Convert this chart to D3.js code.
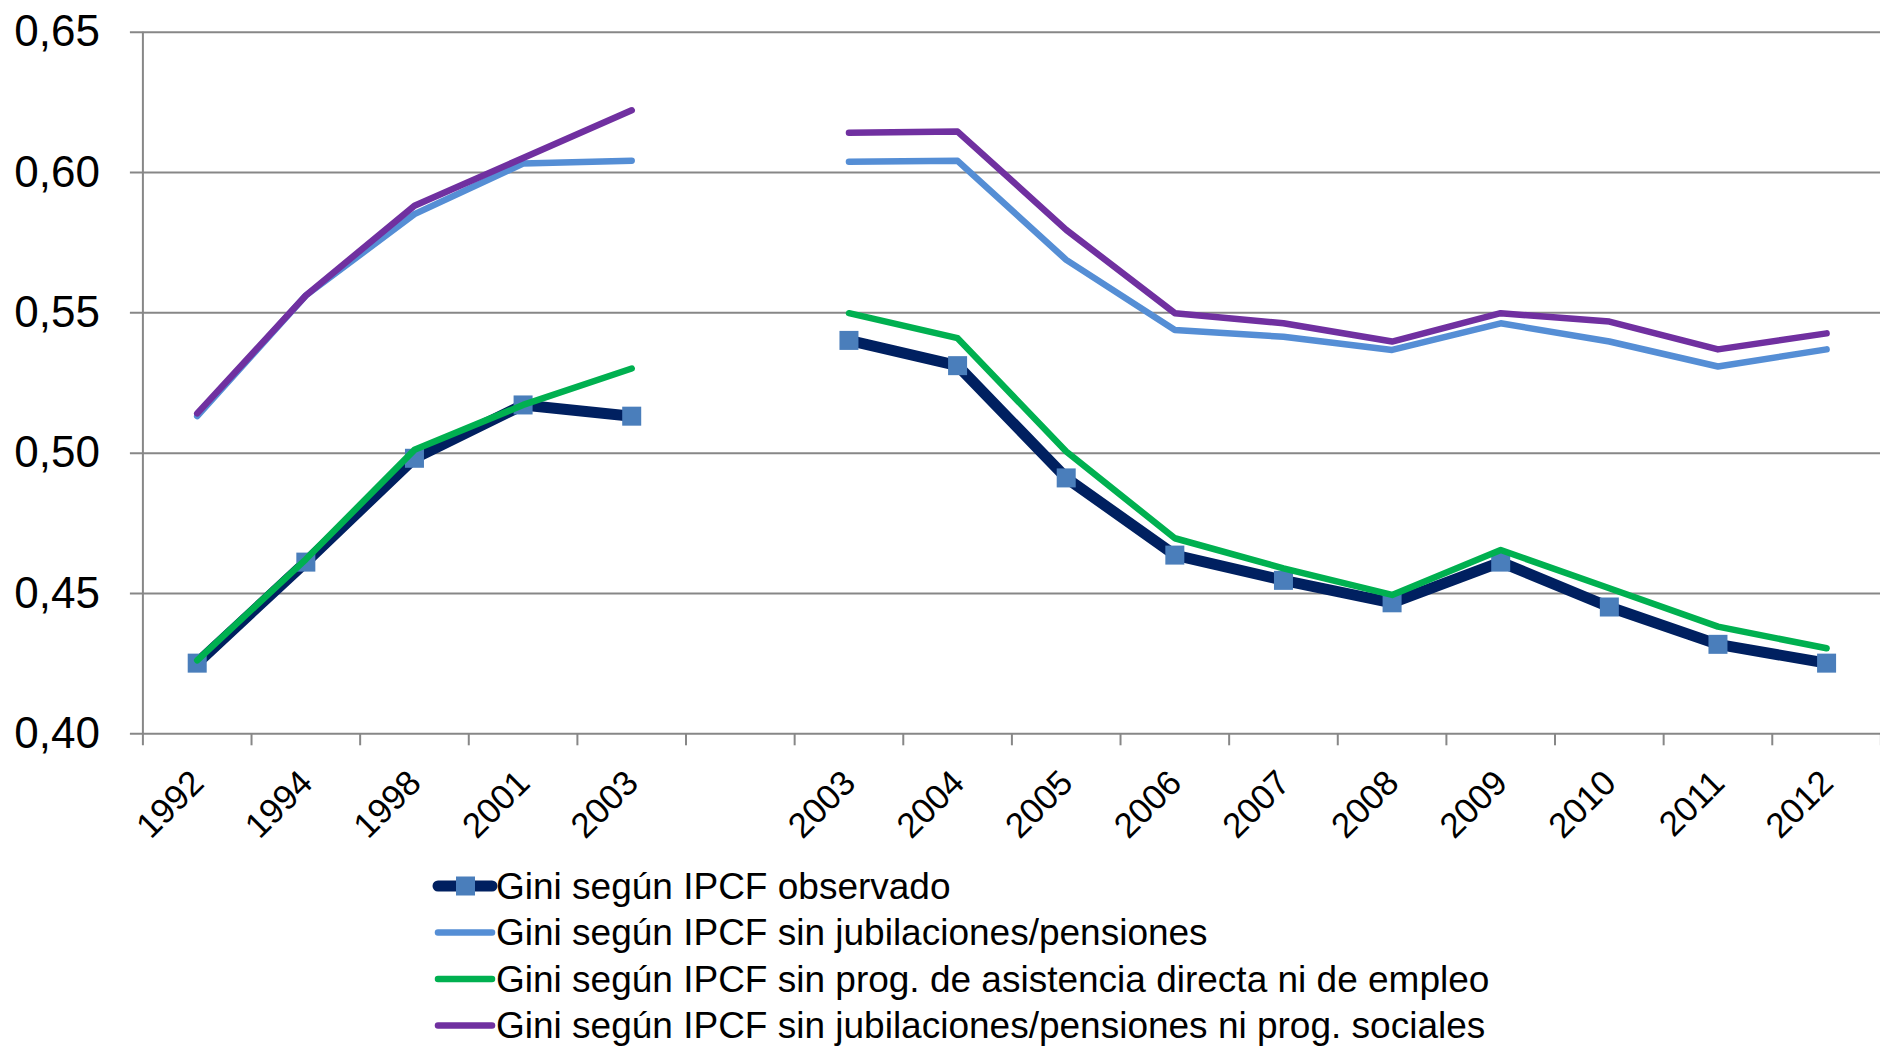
<!DOCTYPE html>
<html>
<head>
<meta charset="utf-8">
<script src="https://cdn.jsdelivr.net/npm/d3@7"></script>
<style>
  body { margin: 0; background: #fff; }
  svg { display: block; font-family: "Liberation Sans", Arial, sans-serif; }
  .grid line { stroke: #878787; stroke-width: 2px; }
  .grid .domain { display: none; }
</style>
</head>
<body>
<div id="gini"></div>
<script>
// categories (blank slot splits the two survey periods)
var years = ["1992", "1994", "1998", "2001", "2003", "", "2003", "2004", "2005", "2006", "2007", "2008", "2009", "2010", "2011", "2012"];

var observado = [0.425, 0.461, 0.498, 0.517, 0.513, null, 0.540, 0.531, 0.491, 0.4635, 0.4545, 0.4465, 0.461, 0.445, 0.4317, 0.425];
var sinJubilaciones = [0.513, 0.556, 0.585, 0.603, 0.604, null, 0.6037, 0.604, 0.5687, 0.5437, 0.5413, 0.5366, 0.5461, 0.5396, 0.5307, 0.5368];
var sinProgramas = [0.426, 0.462, 0.501, 0.517, 0.530, null, 0.5497, 0.5408, 0.5004, 0.4695, 0.4588, 0.4493, 0.4653, 0.4517, 0.438, 0.4303];
var sinJubNiProg = [0.514, 0.556, 0.588, 0.605, 0.622, null, 0.614, 0.6144, 0.5794, 0.5497, 0.5461, 0.5396, 0.5497, 0.5467, 0.5368, 0.5425];

var yTicks = [0.40, 0.45, 0.50, 0.55, 0.60, 0.65];

var seriesNames = [
  "Gini según IPCF observado",
  "Gini según IPCF sin jubilaciones/pensiones",
  "Gini según IPCF sin prog. de asistencia directa ni de empleo",
  "Gini según IPCF sin jubilaciones/pensiones ni prog. sociales"
];

var series = [
  { name: seriesNames[0], values: observado, color: "#002060", width: 11, marker: true },
  { name: seriesNames[1], values: sinJubilaciones, color: "#558ED5", width: 6.5 },
  { name: seriesNames[2], values: sinProgramas, color: "#00B050", width: 6.5 },
  { name: seriesNames[3], values: sinJubNiProg, color: "#7030A0", width: 6.5 }
];

var svg = d3.select("#gini").append("svg")
    .attr("width", 1880)
    .attr("height", 1046),
    margin = {top: 31.7, left: 142.9},
    width = 1738,
    height = 701.6,
    g = svg.append("g").attr("transform", "translate(" + margin.left + "," + margin.top + ")");

var x = d3.scaleBand()
    .domain(d3.range(years.length))
    .range([0, width]);

var y = d3.scaleLinear()
    .domain([0.40, 0.65])
    .range([height, 0]);

var fmt = function(d) { return d3.format(".2f")(d).replace(".", ","); };

// horizontal gridlines + y labels
var yAxis = g.append("g")
    .attr("class", "grid")
    .call(d3.axisLeft(y).tickValues(yTicks).tickSize(-width).tickPadding(43).tickFormat(fmt));
yAxis.selectAll(".tick line").attr("x1", -13);
yAxis.selectAll(".tick text")
    .style("font-size", "44px")
    .style("fill", "#000");

// vertical axis line
g.append("line")
    .attr("x1", 0).attr("x2", 0)
    .attr("y1", 0).attr("y2", height + 12)
    .attr("stroke", "#878787")
    .attr("stroke-width", 2);

// x tick marks at band boundaries
g.append("g")
    .selectAll("line")
    .data(d3.range(years.length))
  .enter().append("line")
    .attr("x1", function(i) { return x(i) + x.bandwidth(); })
    .attr("x2", function(i) { return x(i) + x.bandwidth(); })
    .attr("y1", height)
    .attr("y2", height + 12)
    .attr("stroke", "#878787")
    .attr("stroke-width", 2);

// x labels, rotated
g.append("g")
    .selectAll("text")
    .data(d3.range(years.length))
  .enter().append("text")
    .attr("transform", function(i) { return "translate(" + (x(i) + x.bandwidth() / 2) + "," + (height + 43) + ") rotate(-45)"; })
    .attr("dy", ".35em")
    .style("text-anchor", "end")
    .style("font-size", "35px")
    .text(function(i) { return years[i]; });

var line = d3.line()
    .defined(function(d) { return d != null; })
    .x(function(d, i) { return x(i) + x.bandwidth() / 2; })
    .y(function(d) { return y(d); });

series.forEach(function(s) {
  g.append("path")
      .datum(s.values)
      .attr("fill", "none")
      .attr("stroke", s.color)
      .attr("stroke-width", s.width)
      .attr("stroke-linejoin", "round")
      .attr("stroke-linecap", "round")
      .attr("d", line);

  if (s.marker) {
    g.append("g")
        .selectAll("rect")
        .data(s.values.map(function(v, i) { return {v: v, i: i}; }).filter(function(d) { return d.v != null; }))
      .enter().append("rect")
        .attr("x", function(d) { return x(d.i) + x.bandwidth() / 2 - 9.5; })
        .attr("y", function(d) { return y(d.v) - 9.5; })
        .attr("width", 19)
        .attr("height", 19)
        .style("fill", "#4A7EBB");
  }
});

// legend
var legend = svg.append("g")
    .selectAll("g")
    .data(series)
  .enter().append("g")
    .attr("transform", function(d, i) { return "translate(434," + (886 + i * 46.5) + ")"; });

legend.append("line")
    .attr("x1", 4).attr("x2", 58)
    .attr("stroke", function(d) { return d.color; })
    .attr("stroke-width", function(d) { return d.marker ? 11 : 6.5; })
    .attr("stroke-linecap", "round");

legend.filter(function(d) { return d.marker; })
  .append("rect")
    .attr("x", 22).attr("y", -9.5)
    .attr("width", 19).attr("height", 19)
    .style("fill", "#4A7EBB");

legend.append("text")
    .attr("x", 62)
    .attr("dy", ".35em")
    .style("font-size", "37px")
    .text(function(d) { return d.name; });
</script>
</body>
</html>
